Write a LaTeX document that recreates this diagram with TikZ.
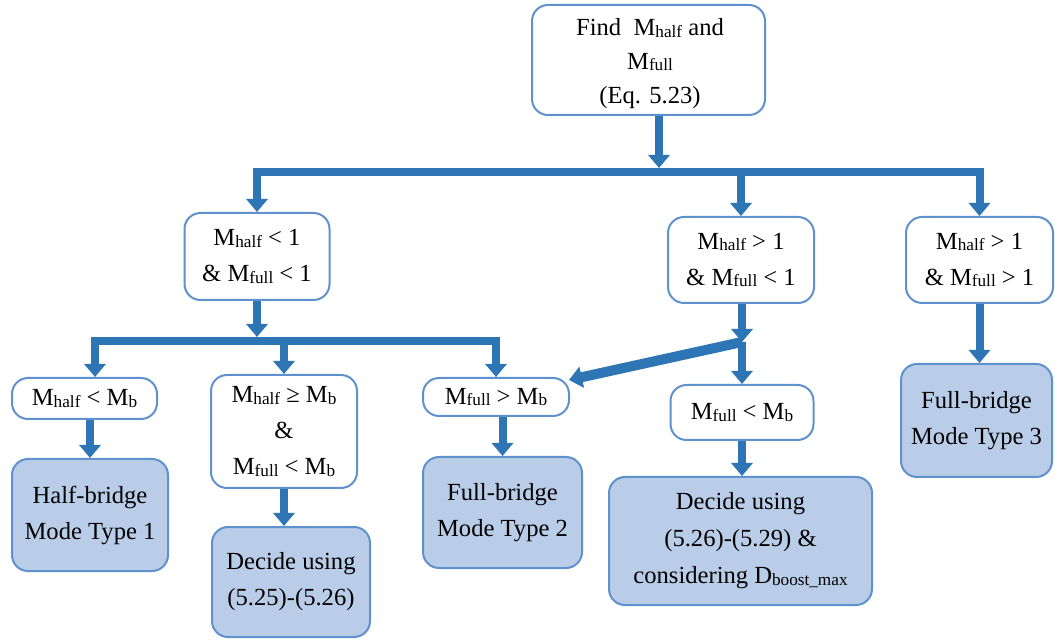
\documentclass[tikz,border=0pt]{standalone}
\usepackage{fontspec}
\setmainfont{Liberation Serif}
\usetikzlibrary{arrows.meta}
\definecolor{flowblue}{RGB}{46,117,182}
\definecolor{edgeblue}{RGB}{95,145,205}
\definecolor{resultfill}{RGB}{186,205,232}
% small subscript text (half, full, b, ...)
\newcommand\sbs[1]{\raisebox{-0.6pt}{\fontsize{8.6}{9}\selectfont #1}}

\begin{document}
\begin{tikzpicture}[x=0.5pt,y=-0.5pt,
  box/.style={draw=edgeblue, line width=1pt, rounded corners=8pt, fill=white,
    align=center, inner sep=0pt, font=\fontsize{12.3}{18}\selectfont},
  result/.style={box, fill=resultfill},
  flow/.style={draw=flowblue, line width=4pt, line join=miter,
    -{Triangle[width=10.5pt,length=6.5pt]}}]
\useasboundingbox (0,0) rectangle (1055,641);

% first step
\node[box, minimum width=116.5pt, minimum height=55pt,
  font=\fontsize{12.3}{16.8}\selectfont] (top) at (648.5,60) {};
\node[align=center, inner sep=0pt, font=\fontsize{12.3}{16.8}\selectfont]
  (toptext) at (650,63.5) {Find~ M\sbs{half} and\\ M\sbs{full}\\ (Eq. 5.23)};

% first-level conditions
\node[box, minimum width=72.5pt, minimum height=43.5pt] (c1) at (257,256.5)
  {M\sbs{half} < 1\\ \& M\sbs{full} < 1};
\node[box, minimum width=73pt, minimum height=43pt] (c2) at (741,260)
  {M\sbs{half} > 1\\ \& M\sbs{full} < 1};
\node[box, minimum width=73.5pt, minimum height=43pt] (c3) at (979.5,260)
  {M\sbs{half} > 1\\ \& M\sbs{full} > 1};

% second-level conditions
\node[box, minimum width=72.5pt, minimum height=20.5pt] (d1) at (84.5,398.5)
  {M\sbs{half} < M\sbs{b}};
\node[box, minimum width=73pt, minimum height=56.5pt] (d2) at (284,431.5)
  {M\sbs{half} ≥ M\sbs{b}\\ \&\\ M\sbs{full} < M\sbs{b}};
\node[box, minimum width=73pt, minimum height=19pt] (d3) at (496,397)
  {M\sbs{full} > M\sbs{b}};
\node[box, minimum width=71.5pt, minimum height=27.5pt] (d4) at (742,412.5)
  {M\sbs{full} < M\sbs{b}};

% outcomes
\node[result, minimum width=78pt, minimum height=56pt] (e1) at (90,515)
  {Half-bridge\\ Mode Type 1};
\node[result, minimum width=79pt, minimum height=55pt] (e2) at (291,582)
  {Decide using\\ (5.25)-(5.26)};
\node[result, minimum width=79.5pt, minimum height=55.5pt] (e3) at (502.5,512.5)
  {Full-bridge\\ Mode Type 2};
\node[result, minimum width=131.5pt, minimum height=64pt,
  font=\fontsize{12.3}{18.5}\selectfont] (e4) at (740.5,541)
  {Decide using\\ (5.26)-(5.29) \&\\ considering D\sbs{boost\_max}};
\node[result, minimum width=75.5pt, minimum height=56.5pt] (e5) at (976.5,420.5)
  {Full-bridge\\ Mode Type 3};

% junction points on the distribution lines
\coordinate (j1) at (659,172);
\coordinate (j2) at (257,341);
\coordinate (b2L) at (95,341);
\coordinate (j3) at (742,342);
\coordinate (t3) at (569,380);

% top distribution line
\draw[flow] (top.south -| j1) -- ([yshift=2pt]j1);
\draw[flow] (j1) -| (c1.north);
\draw[flow] (j1) -| (c3.north);
\draw[flow] (j1 -| c2.north) -- (c2.north);

% left distribution line
\draw[flow] (c1.south) -- ([yshift=2pt]j2);
\draw[flow] (j2) -| (d1.north -| b2L);
\draw[flow] (j2) -| (d3.north);
\draw[flow] (j2 -| d2.north) -- (d2.north);

% middle branch
\draw[flow] (c2.south -| j3) -- (j3);
\draw[flow] (j3) -- (d4.north -| j3);
\draw[flow, line width=5pt] (j3) -- (t3);

% to the outcomes
\draw[flow] (d1.south -| e1.north) -- (e1.north);
\draw[flow] (d2.south) -- (e2.north -| d2.south);
\draw[flow] (d3.south -| e3.north) -- (e3.north);
\draw[flow] (d4.south) -- (e4.north -| d4.south);
\draw[flow] (c3.south) -- (e5.north -| c3.south);
\end{tikzpicture}
\end{document}
